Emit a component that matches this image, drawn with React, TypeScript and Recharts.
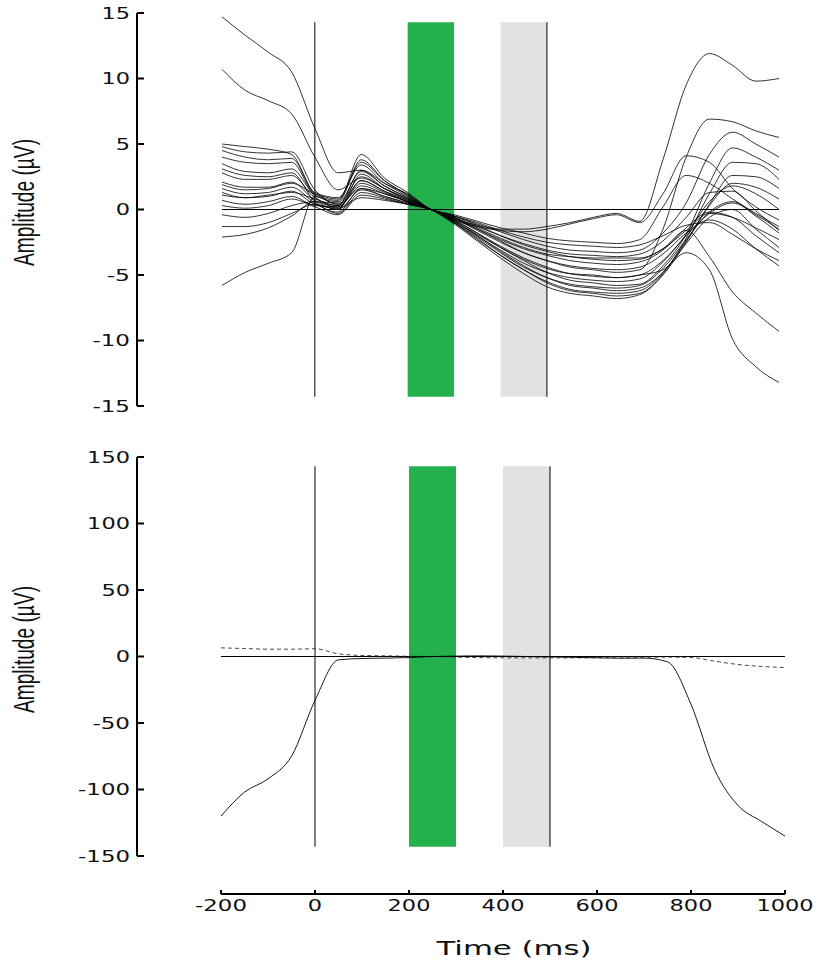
import React from 'react';
import { LineChart, Line, XAxis, YAxis, ReferenceArea, ReferenceLine } from 'recharts';

// sample times (ms)
const times = [-200, -150, -100, -50, 0, 50, 100, 150, 200, 250, 300, 350, 400, 450, 500, 550, 600, 650, 700, 750, 800, 850, 900, 950, 1000];

// top panel: one trace per channel (µV)
const ch01 = [14.7, 13.3, 12.0, 10.5, 6.2, 2.8, 3.0, 2.0, 1.0, 0.0, -0.7, -1.2, -1.5, -1.5, -1.3, -1.0, -0.6, -0.3, -0.9, 3.8, 9.5, 11.9, 11.0, 9.8, 10.0];
const ch02 = [10.7, 9.1, 8.3, 7.3, 4.0, 1.5, 2.4, 1.6, 0.8, 0.0, -0.8, -1.3, -1.6, -1.7, -1.5, -1.1, -0.7, -0.4, -1.0, 1.2, 4.1, 3.6, 1.6, 0.2, -0.8];
const ch03 = [-5.8, -4.8, -4.1, -3.3, 1.0, 0.4, 1.6, 1.2, 0.6, 0.0, -0.9, -1.9, -2.9, -3.8, -4.5, -4.9, -5.0, -5.2, -5.0, -4.6, -3.3, -4.6, -9.9, -12.0, -13.2];
const ch04 = [1.1, 0.9, 1.1, 1.3, 0.8, 0.3, 2.2, 1.4, 0.7, 0.0, -0.5, -1.2, -2.0, -2.7, -3.2, -3.6, -3.8, -3.9, -3.8, -3.0, -1.6, -3.6, -6.3, -7.9, -9.3];
const ch05 = [5.0, 4.8, 4.6, 4.2, 1.3, 0.9, 3.4, 2.0, 1.2, 0.0, -0.6, -1.5, -2.4, -3.3, -3.9, -4.4, -4.6, -4.8, -4.6, -1.5, 4.0, 6.9, 6.7, 6.0, 5.5];
const ch06 = [4.8, 4.4, 4.3, 4.4, 1.5, 0.4, 2.5, 1.6, 0.8, 0.0, -0.9, -2.0, -3.2, -4.3, -5.2, -5.8, -6.0, -6.2, -6.0, -4.8, -2.6, -0.6, 0.0, -1.5, -2.9];
const ch07 = [4.5, 4.0, 3.8, 3.9, 1.2, 0.7, 4.2, 2.4, 1.3, 0.0, -0.5, -1.1, -1.7, -2.3, -2.8, -3.1, -3.2, -3.3, -3.1, -1.8, 0.5, 4.2, 5.9, 5.0, 4.0];
const ch08 = [4.0, 3.6, 3.5, 3.6, 1.0, 0.2, 2.0, 1.3, 0.6, 0.0, -0.8, -1.8, -2.9, -3.9, -4.8, -5.4, -5.6, -5.8, -5.7, -4.3, -1.9, 2.0, 4.7, 4.0, 3.0];
const ch09 = [3.5, 2.9, 2.8, 3.1, 1.1, 0.6, 3.8, 2.2, 1.1, 0.0, -0.4, -0.9, -1.4, -1.8, -2.2, -2.4, -2.5, -2.6, -2.3, 0.2, 2.6, 2.0, 0.8, -0.3, -1.3];
const ch10 = [3.1, 2.6, 2.5, 2.8, 0.6, -0.2, 1.6, 1.0, 0.5, 0.0, -1.0, -2.2, -3.5, -4.6, -5.6, -6.2, -6.4, -6.6, -6.4, -4.9, -2.2, 1.2, 3.6, 3.5, 2.3];
const ch11 = [2.8, 2.3, 2.3, 2.6, 0.9, 0.3, 3.0, 1.8, 0.9, 0.0, -0.7, -1.5, -2.3, -3.0, -3.5, -3.9, -4.1, -4.2, -4.0, -3.1, -1.4, -0.2, -0.6, -2.0, -3.3];
const ch12 = [2.1, 1.7, 1.7, 2.1, 0.7, 0.0, 2.7, 1.6, 0.7, 0.0, -1.1, -2.4, -3.7, -4.9, -5.9, -6.4, -6.6, -6.8, -6.5, -5.0, -2.5, 0.4, 2.6, 2.5, 1.6];
const ch13 = [1.9, 1.5, 1.6, 2.0, 1.2, 0.8, 3.6, 2.2, 1.1, 0.0, -0.6, -1.3, -2.0, -2.6, -3.1, -3.4, -3.5, -3.6, -3.4, -2.4, -0.6, 1.3, 1.4, -0.1, -1.6];
const ch14 = [1.6, 1.2, 1.3, 1.7, 0.5, -0.3, 1.3, 0.9, 0.4, 0.0, -0.9, -2.0, -3.1, -4.1, -4.8, -5.2, -5.4, -5.5, -5.3, -4.0, -1.9, 0.6, 1.8, 1.2, 0.0];
const ch15 = [1.3, 0.9, 1.0, 1.4, 0.4, 0.1, 2.2, 1.4, 0.6, 0.0, -1.0, -2.1, -3.3, -4.4, -5.2, -5.7, -5.9, -6.0, -5.8, -4.5, -2.3, -0.2, 0.6, -0.5, -1.8];
const ch16 = [0.7, 0.4, 0.6, 1.0, 0.3, 0.2, 1.8, 1.2, 0.6, 0.0, -0.5, -1.0, -1.6, -2.1, -2.5, -2.7, -2.8, -2.9, -2.7, -2.0, -1.2, -1.0, -1.9, -3.0, -3.9];
const ch17 = [0.3, 0.1, 0.3, 0.8, 0.2, -0.4, 1.1, 0.8, 0.4, 0.0, -1.0, -2.3, -3.5, -4.6, -5.5, -6.1, -6.3, -6.4, -6.2, -4.8, -2.4, 0.3, 2.0, 1.7, 0.8];
const ch18 = [-0.4, -0.6, -0.3, 0.3, 0.6, 0.5, 2.9, 1.8, 0.9, 0.0, -0.7, -1.6, -2.5, -3.3, -3.9, -4.3, -4.5, -4.6, -4.4, -3.4, -1.8, -0.8, -1.5, -3.0, -4.3];
const ch19 = [-1.3, -1.3, -1.0, -0.3, 0.4, 0.0, 1.5, 1.0, 0.5, 0.0, -0.8, -1.8, -2.8, -3.7, -4.4, -4.9, -5.1, -5.2, -5.0, -3.9, -2.0, -0.3, 0.5, -0.4, -1.5];
const ch20 = [-2.1, -1.9, -1.4, -0.5, 0.6, 0.1, 0.9, 0.7, 0.4, 0.0, -0.6, -1.4, -2.2, -2.9, -3.4, -3.6, -3.7, -3.7, -3.7, -3.0, -1.6, -0.3, -0.6, -1.4, -2.3];

const topSeries = [ch01, ch02, ch03, ch04, ch05, ch06, ch07, ch08, ch09, ch10, ch11, ch12, ch13, ch14, ch15, ch16, ch17, ch18, ch19, ch20];

// bottom panel
const eogSolid = [-120, -102, -92, -75, -33, -2.5, -1.5, -1.2, -0.8, 0, 0.3, 0.5, 0.3, 0, -0.3, -0.6, -1.0, -1.3, -1.2, -4, -36, -85, -112, -124, -135];
const eogDashed = [6.5, 6.0, 5.5, 5.5, 5.8, 2.0, 0.8, 0.5, 0.2, 0, -0.5, -0.8, -1.0, -1.0, -1.0, -1.0, -0.8, -0.5, -0.5, -0.5, -0.8, -3.5, -6.0, -7.5, -8.3];

const topTicks = [-15, -10, -5, 0, 5, 10, 15];
const bottomTicks = [-150, -100, -50, 0, 50, 100, 150];
const timeTicks = [-200, 0, 200, 400, 600, 800, 1000];

const topData = times.map((t, i) => {
  const row: Record<string, number> = { t };
  topSeries.forEach((s, k) => {
    row['s' + k] = s[i];
  });
  return row;
});

const bottomData = times.map((t, i) => ({ t, solid: eogSolid[i], dashed: eogDashed[i] }));

const tickFont = '"DejaVu Sans", Verdana, sans-serif';

// the original figure is stretched sideways, so labels get stretched too
const labelWidth = (s: string) => s.replace('-', '').length * 14.3 + (s.startsWith('-') ? 9 : 0);

// y ticks point inward (to the right of the detached axis line)
const makeYTick = (shift: number) => (props: any) => {
  const { x, y, payload } = props;
  const ax = x + shift;
  const txt = String(payload.value);
  return (
    <g>
      <line x1={ax} x2={ax + 7} y1={y} y2={y} stroke="#000" strokeWidth={2} />
      <text
        x={ax - 7}
        y={y + 5.5}
        textAnchor="end"
        fontFamily={tickFont}
        fontSize={15}
        fill="#111"
        textLength={labelWidth(txt)}
        lengthAdjust="spacingAndGlyphs"
      >
        {txt}
      </text>
    </g>
  );
};

const makeXTick = (drop: number) => (props: any) => {
  const { x, y, payload } = props;
  const ay = y + drop;
  const txt = String(payload.value);
  return (
    <g>
      <line x1={x} x2={x} y1={ay - 4} y2={ay} stroke="#000" strokeWidth={2} />
      <text
        x={x}
        y={ay + 17}
        textAnchor="middle"
        fontFamily={tickFont}
        fontSize={15}
        fill="#111"
        textLength={labelWidth(txt)}
        lengthAdjust="spacingAndGlyphs"
      >
        {txt}
      </text>
    </g>
  );
};

const makeAmpTitle = (fallbackCy: number) => (props: any) => {
  const vb = props && props.viewBox;
  const cy = vb && vb.height ? vb.y + vb.height / 2 - 7 : fallbackCy;
  return (
    <text
      transform={`translate(34, ${cy}) rotate(-90)`}
      textAnchor="middle"
      fontFamily='"Liberation Sans", Arial, sans-serif'
      fontSize={29}
      fill="#111"
      textLength={127}
      lengthAdjust="spacingAndGlyphs"
    >
      Amplitude (µV)
    </text>
  );
};

const timeTitle = (props: any) => {
  const vb = props && props.viewBox;
  const cx = vb && vb.width ? vb.x + vb.width / 2 + 11 : 514;
  const cy = vb && vb.width ? vb.y + 99 : 515;
  return (
    <text
      x={cx}
      y={cy}
      textAnchor="middle"
      fontFamily={tickFont}
      fontSize={19}
      fill="#111"
      textLength={155}
      lengthAdjust="spacingAndGlyphs"
    >
      Time (ms)
    </text>
  );
};

const GREEN = '#24B04D';
const GREY = '#E2E2E2';

const App = () => {
  return (
    <div style={{ position: 'absolute', left: 0, top: 0, width: 817, height: 961, background: '#fff' }}>
      {/* top: all channels */}
      <div style={{ position: 'absolute', left: 0, top: 0 }}>
        <LineChart width={817} height={420} data={topData} margin={{ top: 13, right: 38, bottom: 14, left: 0 }}>
          <XAxis dataKey="t" type="number" domain={[-200, 1000]} hide />
          <YAxis
            type="number"
            domain={[-15, 15]}
            ticks={topTicks}
            interval={0}
            width={222}
            tickSize={0}
            tickMargin={0}
            tickLine={false}
            axisLine={{ stroke: '#000', strokeWidth: 2, transform: 'translate(-85,0)' }}
            tick={makeYTick(-85)}
            label={makeAmpTitle(202)}
          />
          <ReferenceArea x1={200} x2={300} y1={-14.3} y2={14.3} fill={GREEN} fillOpacity={1} stroke="none" />
          <ReferenceArea x1={400} x2={500} y1={-14.3} y2={14.3} fill={GREY} fillOpacity={1} stroke="none" />
          <ReferenceLine segment={[{ x: 0, y: -14.3 }, { x: 0, y: 14.3 }]} stroke="#000" strokeWidth={1} />
          <ReferenceLine segment={[{ x: 500, y: -14.3 }, { x: 500, y: 14.3 }]} stroke="#000" strokeWidth={1} />
          <ReferenceLine y={0} stroke="#000" strokeWidth={1} />
          {topSeries.map((_, k) => (
            <Line
              key={k}
              dataKey={'s' + k}
              type="monotone"
              stroke="#000"
              strokeWidth={0.8}
              dot={false}
              isAnimationActive={false}
            />
          ))}
        </LineChart>
      </div>

      {/* bottom: EOG */}
      <div style={{ position: 'absolute', left: 0, top: 440 }}>
        <LineChart width={817} height={521} data={bottomData} margin={{ top: 17, right: 32, bottom: 0, left: 0 }}>
          <XAxis
            dataKey="t"
            type="number"
            domain={[-200, 1000]}
            ticks={timeTicks}
            interval={0}
            height={105}
            tickSize={0}
            tickMargin={0}
            tickLine={false}
            axisLine={{ stroke: '#000', strokeWidth: 2, transform: 'translate(0,38)' }}
            tick={makeXTick(38)}
            label={timeTitle}
          />
          <YAxis
            type="number"
            domain={[-150, 150]}
            ticks={bottomTicks}
            interval={0}
            width={221}
            tickSize={0}
            tickMargin={0}
            tickLine={false}
            axisLine={{ stroke: '#000', strokeWidth: 2, transform: 'translate(-84,0)' }}
            tick={makeYTick(-84)}
            label={makeAmpTitle(211)}
          />
          <ReferenceArea x1={200} x2={300} y1={-143} y2={143} fill={GREEN} fillOpacity={1} stroke="none" />
          <ReferenceArea x1={400} x2={500} y1={-143} y2={143} fill={GREY} fillOpacity={1} stroke="none" />
          <ReferenceLine segment={[{ x: 0, y: -143 }, { x: 0, y: 143 }]} stroke="#000" strokeWidth={1} />
          <ReferenceLine segment={[{ x: 500, y: -143 }, { x: 500, y: 143 }]} stroke="#000" strokeWidth={1} />
          <ReferenceLine y={0} stroke="#000" strokeWidth={1} />
          <Line dataKey="dashed" type="monotone" stroke="#333" strokeWidth={0.9} strokeDasharray="4 3" dot={false} isAnimationActive={false} />
          <Line dataKey="solid" type="monotone" stroke="#000" strokeWidth={0.9} dot={false} isAnimationActive={false} />
        </LineChart>
      </div>
    </div>
  );
};

export default App;
